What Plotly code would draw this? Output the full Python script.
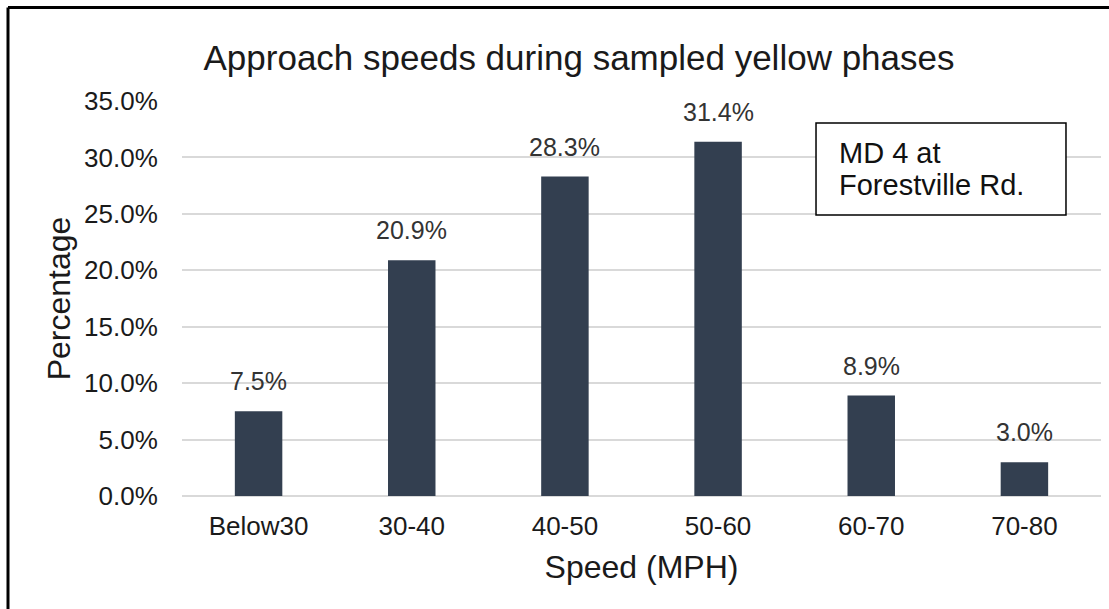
import plotly.graph_objects as go

categories = ["Below30", "30-40", "40-50", "50-60", "60-70", "70-80"]
percentages = [7.5, 20.9, 28.3, 31.4, 8.9, 3.0]
y_ticks = [0, 5, 10, 15, 20, 25, 30, 35]
y_tick_labels = [f"{v:.1f}%" for v in y_ticks]
box_lines = ["MD 4 at", "Forestville Rd."]

FONT = "Arial, Liberation Sans, sans-serif"
BAR = "#333f50"
TXT = "#1a1a1a"

fig = go.Figure()
fig.add_trace(go.Bar(
    x=categories, y=percentages, width=0.31,
    marker=dict(color=BAR, line=dict(width=0)),
    hoverinfo="x+y",
))

for c, v in zip(categories, percentages):
    fig.add_annotation(x=c, y=v, text=f"{v:.1f}%", showarrow=False,
                       yanchor="bottom", yshift=14,
                       font=dict(family=FONT, size=25, color="#333333"))

# text box
fig.add_shape(type="rect", xref="paper", yref="paper",
              x0=0.6899, x1=0.9619, y0=0.7114, y1=0.9443,
              line=dict(color="black", width=1.5), fillcolor="white", layer="above")
for txt, yy in zip(box_lines, [0.868, 0.787]):
    fig.add_annotation(xref="paper", yref="paper", x=0.713, y=yy,
                       xanchor="left", yanchor="middle", text=txt,
                       showarrow=False, align="left",
                       font=dict(family=FONT, size=29, color="#111111"))

# outer frame (top & left visible)
fx = (8 - 182) / 919
fy = (496 - 7.5) / 395
fig.add_shape(type="line", xref="paper", yref="paper", x0=fx, x1=fx, y0=-0.4, y1=fy,
              line=dict(color="black", width=3))
fig.add_shape(type="line", xref="paper", yref="paper", x0=fx, x1=1.02, y0=fy, y1=fy,
              line=dict(color="black", width=3))

fig.update_layout(
    width=1109, height=609,
    margin=dict(l=182, r=8, t=101, b=113),
    paper_bgcolor="white", plot_bgcolor="white",
    showlegend=False,
    title=dict(text="Approach speeds during sampled yellow phases",
               x=579 / 1109, xanchor="center", y=1 - 58 / 609, yanchor="middle",
               font=dict(family=FONT, size=35, color=TXT)),
    xaxis=dict(
        title=dict(text="Speed (MPH)", font=dict(family=FONT, size=32, color=TXT), standoff=15),
        tickfont=dict(family=FONT, size=26, color=TXT),
        showgrid=False, showline=False, ticks="outside", ticklen=7, tickcolor="rgba(0,0,0,0)",
    ),
    yaxis=dict(
        title=dict(text="Percentage", font=dict(family=FONT, size=32, color=TXT), standoff=3),
        range=[0, 35], tickvals=y_ticks, ticktext=y_tick_labels,
        tickfont=dict(family=FONT, size=26, color=TXT),
        showgrid=True, gridcolor="#d9d9d9", gridwidth=1.5,
        zeroline=True, zerolinecolor="#d9d9d9", zerolinewidth=1.5,
        showline=False, ticks="outside", ticklen=18, tickcolor="rgba(0,0,0,0)",
    ),
)

fig.write_html("out.html")
